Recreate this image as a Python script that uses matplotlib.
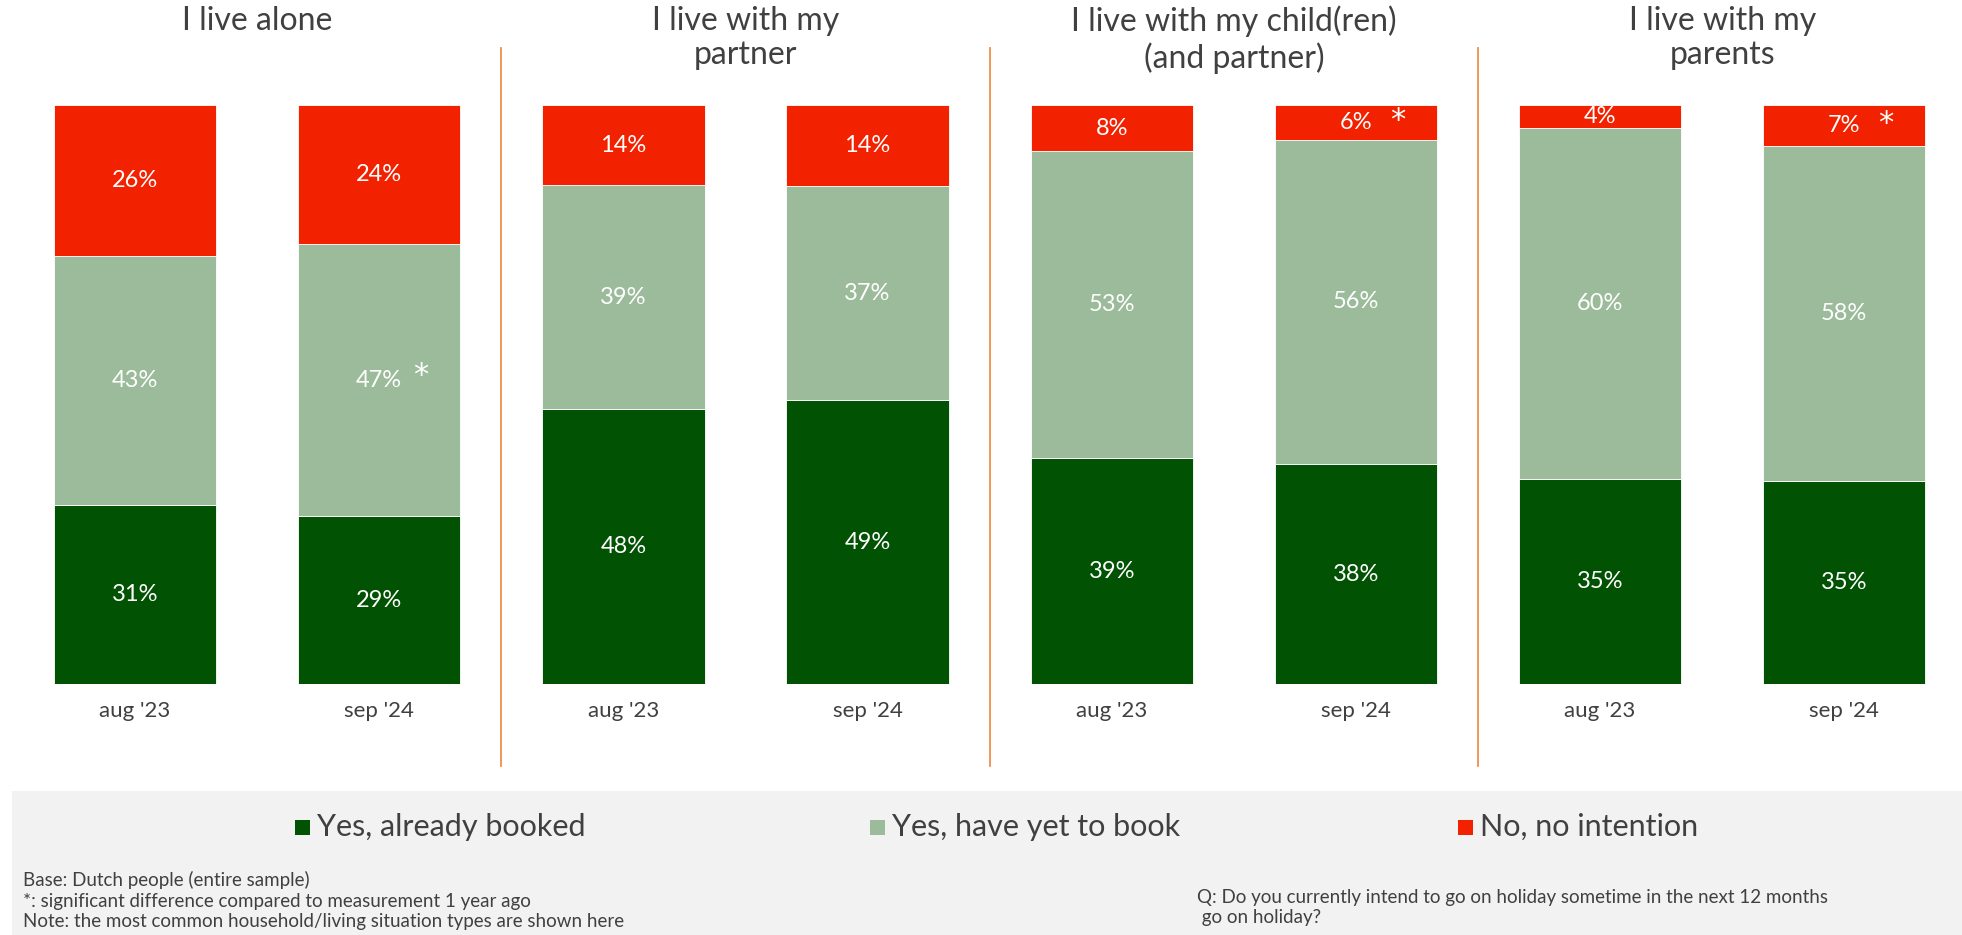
import matplotlib
matplotlib.use("Agg")
import matplotlib.pyplot as plt
from matplotlib import font_manager
from matplotlib.patches import Rectangle
import numpy as np

# data
groups = ["I live alone", "I live with my\npartner", "I live with my child(ren)\n(and partner)", "I live with my\nparents"]
periods = ["aug '23", "sep '24"]
booked = [31, 29, 48, 49, 39, 38, 35, 35]
yet_to_book = [43, 47, 39, 37, 53, 56, 60, 58]
no_intention = [26, 24, 14, 14, 8, 6, 4, 7]
series_names = ["Yes, already booked", "Yes, have yet to book", "No, no intention"]
# bars with a significant change vs last year: (bar index, series index)
significant = [(1, 1), (5, 2), (7, 2)]
foot_left = ["Base: Dutch people (entire sample)",
             "*: significant difference compared to measurement 1 year ago",
             "Note: the most common household/living situation types are shown here"]
foot_right = ["Q: Do you currently intend to go on holiday sometime in the next 12 months",
              " go on holiday?"]

colors = ["#025204", "#9BBB9A", "#F22200"]
txt = "#404040"

names = set(f.name for f in font_manager.fontManager.ttflist)
fam = [n for n in ["Lato", "DejaVu Sans"] if n in names]
plt.rcParams["font.family"] = fam
plt.rcParams["font.weight"] = "normal"

fig = plt.figure(figsize=(19.62, 9.35), dpi=100)
ax = fig.add_axes([0, 0.2684, 1, 0.6193])

x = np.arange(len(booked))
data = np.array([booked, yet_to_book, no_intention], dtype=float)
pct = data / data.sum(axis=0) * 100   # 100% stacked

bottom = np.zeros(len(x))
for i in range(3):
    ax.bar(x, pct[i], bottom=bottom, width=0.665, color=colors[i], edgecolor="white", linewidth=0.6)
    for j in range(len(x)):
        ax.text(x[j], bottom[j] + pct[i][j] / 2, "%d%%" % data[i][j], ha="center", va="center",
                color="white", fontsize=17)
    bottom = bottom + pct[i]

# significance stars
cum = np.cumsum(pct, axis=0)
for b, s in significant:
    ymid = cum[s][b] - pct[s][b] / 2
    dy = 3 if s == 1 else 1
    ax.annotate("*", xy=(x[b], ymid), xytext=(30, dy), textcoords="offset points",
                ha="center", va="center", color="white", fontsize=22, family="DejaVu Sans")

ax.set_xlim(-0.553, 7.482)
ax.set_ylim(0, 100)
ax.set_xticks(x)
ax.set_xticklabels(periods * 4, fontsize=16, color=txt)
ax.tick_params(axis="x", length=0, pad=12)
ax.set_yticks([])
for sp in ax.spines.values():
    sp.set_visible(False)

# group separators
for xs in [1.5, 3.5, 5.5]:
    ax.axvline(xs, ymin=-0.142, ymax=1.098, clip_on=False, color="#F0904A", lw=1.3)

# group titles
for k, g in enumerate(groups):
    xt = (ax.transData.transform((2 * k + 0.5, 0))[0]) / fig.bbox.width
    fig.text(xt, 0.994, g, ha="center", va="top", fontsize=23, color=txt, linespacing=1.2)

# legend panel
fig.patches.append(Rectangle((12 / 1962, 0), 1, 144 / 935, transform=fig.transFigure,
                             facecolor="#F2F2F2", edgecolor="none", zorder=0))
sq_x = [295, 870, 1458]
for k, name in enumerate(series_names):
    fig.patches.append(Rectangle((sq_x[k] / 1962, (935 - 835) / 935), 15 / 1962, 15 / 935,
                                 transform=fig.transFigure, facecolor=colors[k], edgecolor="none"))
    fig.text((sq_x[k] + 22) / 1962, 1 - 827 / 935, name, ha="left", va="center",
             fontsize=22, color=txt)

for k, line in enumerate(foot_left):
    fig.text(23 / 1962, 1 - (880 + 21 * k) / 935, line, ha="left", va="center", fontsize=13.5, color=txt)
for k, line in enumerate(foot_right):
    fig.text(1197 / 1962, 1 - (897 + 20 * k) / 935, line, ha="left", va="center", fontsize=13.5, color=txt)

fig.savefig("out.png", dpi=100)
